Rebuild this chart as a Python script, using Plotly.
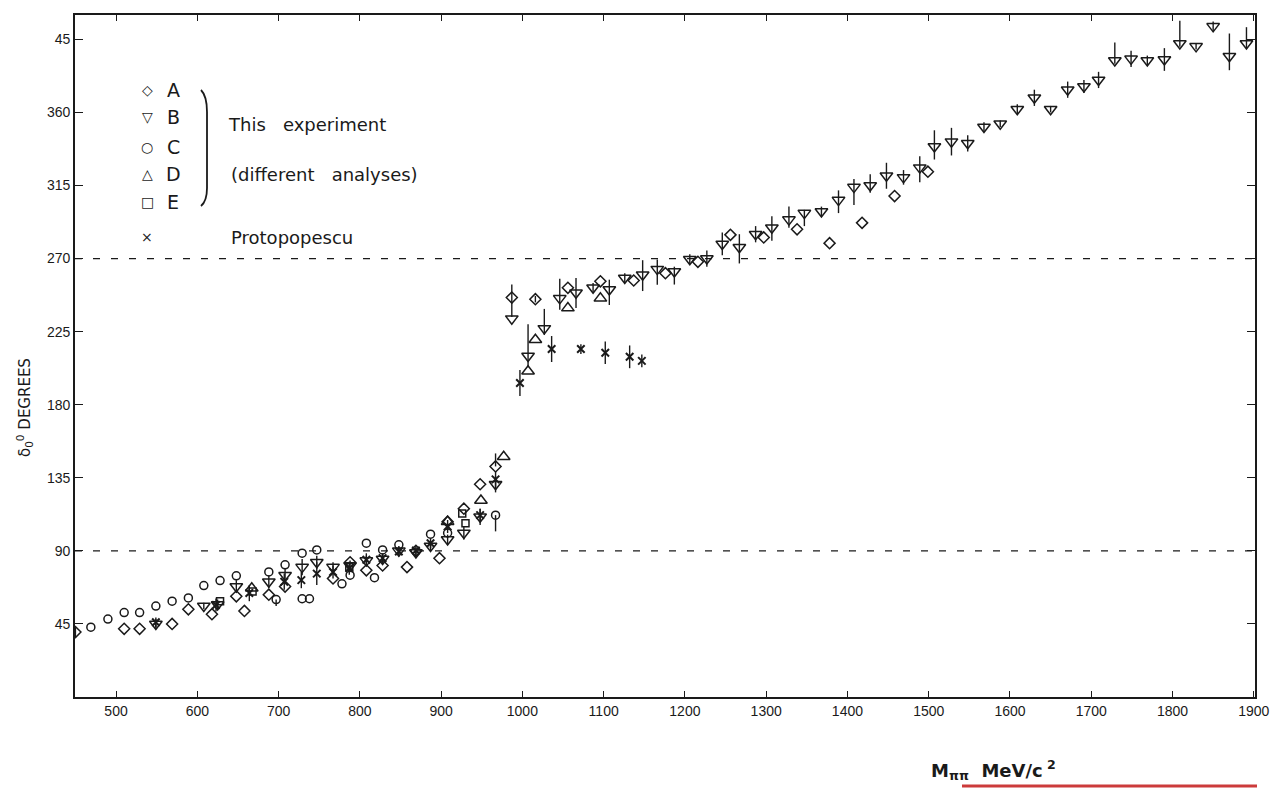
import plotly.graph_objects as go

# ---------------- data ----------------
A_x = [450, 510, 529, 569, 589, 618, 648, 658, 688, 708, 767, 788, 808, 828, 858, 869, 898, 908, 928, 948,
       967, 987, 1016, 1056, 1096, 1137, 1176, 1216, 1256, 1297, 1338, 1378, 1418, 1458, 1499]
A_y = [40, 42, 42, 45, 54, 51, 62, 53, 63, 68, 73, 83, 78, 81, 80, 90, 85.5, 108, 116, 131,
       142, 246, 245, 252, 256, 256.5, 261, 268, 284.6, 283, 288, 279.5, 292, 308.5, 323.5]
A_ep = [3, 0, 0, 0, 0, 0, 0, 0, 0, 0, 0, 0, 0, 0, 0, 0, 0, 0, 0, 0,
        8, 8, 2, 0, 0, 0, 0, 0, 0, 0, 0, 0, 0, 0, 0]
A_em = [3, 0, 0, 0, 0, 0, 0, 0, 0, 0, 0, 0, 0, 0, 0, 0, 0, 0, 0, 0,
        0, 12, 2, 0, 0, 0, 0, 0, 0, 0, 0, 0, 0, 0, 0]

B_x = [549, 608, 625, 648, 688, 708, 729, 747, 767, 788,
       808, 828, 848, 869, 887, 908, 928, 948, 967, 987,
       1007, 1027, 1046, 1066, 1087, 1107, 1126, 1148, 1166, 1187,
       1206, 1227, 1246, 1267, 1287, 1307, 1328, 1347, 1368, 1389,
       1408, 1428, 1448, 1469, 1489, 1507, 1528, 1548, 1568, 1588,
       1609, 1630, 1650, 1671, 1691, 1709, 1729, 1749, 1769, 1790,
       1809, 1829, 1850, 1870, 1891]
B_y = [45, 56, 57, 68, 71, 75, 80, 83, 80, 81,
       84, 85, 90, 89, 93, 97, 101, 111, 131, 233,
       210, 227, 245.5, 249, 252, 251, 258, 260, 263.5, 262,
       269.6, 270, 279, 277, 285, 289, 294, 298, 299, 306,
       314, 315, 321, 320, 326, 339, 342, 341, 351, 353,
       362, 369, 362, 374, 376, 380, 392, 393, 392, 392.6,
       402.5, 400.7, 413, 394.6, 402.5]
B_ep = [3, 2, 3, 4, 4, 4, 5, 4, 3, 3,
        3, 3, 3, 3, 3, 3, 4, 5, 5, 0,
        19.5, 12, 12, 9, 3, 6, 3, 9, 6, 3,
        3, 5, 7, 8, 5, 7, 8, 2, 3, 6,
        5, 7, 8, 4.5, 7, 10, 8.5, 5, 3, 2,
        3, 5, 2, 5, 4, 5, 11, 5, 3, 7,
        14, 2, 3, 14, 10]
B_em = [3, 2, 3, 4, 4, 4, 5, 4, 3, 3,
        3, 3, 3, 3, 3, 3, 4, 5, 5, 0,
        7, 4, 7, 9.5, 3, 9.6, 3, 10, 9.6, 8,
        3, 5, 7, 10, 5, 8, 5, 8, 3, 8,
        11, 4.5, 8, 4.5, 9, 8, 8.5, 5, 3, 2,
        3, 5, 2, 5, 4, 5, 2, 5, 3, 7,
        2, 2, 3, 8.6, 3]

C_x = [469, 490, 510, 529, 549, 569, 589, 608, 628, 648, 688, 697, 708, 729, 729, 738, 747, 778, 788,
       808, 818, 828, 848, 887, 908, 967]
C_y = [43, 48, 52, 52, 56, 59, 61, 68.6, 71.7, 74.6, 77, 60, 81.4, 88.6, 60.5, 60.5, 90.6, 69.7, 75,
       94.7, 73.5, 90.6, 93.7, 100.3, 101, 112]
C_ep = [0] * 26
C_em = [0, 0, 0, 0, 0, 0, 0, 0, 0, 0, 0, 4, 0, 0, 0, 0, 0, 0, 0,
        0, 0, 0, 0, 0, 0, 10]

D_x = [667, 908, 949, 977, 1007, 1016, 1056, 1096]
D_y = [67, 108, 121, 148, 200.6, 220, 239.5, 245.5]

E_x = [628, 668, 787, 926, 930]
E_y = [59, 65, 80, 113, 107]

P_x = [549, 623, 664, 707, 728, 747, 767, 787, 808, 828, 848, 869, 887, 908, 948, 967,
       997, 1036, 1072, 1102, 1132, 1147]
P_y = [46, 56.7, 64, 71, 72, 76, 77, 79.3, 84.5, 85.5, 89.6, 90.2, 94.7, 105, 112, 134,
       193.4, 214.3, 214.3, 212, 209.5, 207]
P_err = [3, 4, 5, 5, 5, 7, 4, 4, 4, 3, 3, 3, 3, 4, 4, 5,
         8, 8, 3, 7, 7, 4]

x_ticks = [500, 600, 700, 800, 900, 1000, 1100, 1200, 1300, 1400, 1500, 1600, 1700, 1800, 1900]
y_ticks = [45, 90, 135, 180, 225, 270, 315, 360, 405]
y_ticktext = ["45", "90", "135", "180", "225", "270", "315", "360", "45"]

legend_symbols = ["◇", "▽", "○", "△", "□", "×"]
legend_letters = ["A", "B", "C", "D", "E"]

# ---------------- figure ----------------
INK = "#1a1a1a"
fig = go.Figure()


def err(plus, minus):
    return dict(type="data", symmetric=False, array=plus, arrayminus=minus,
                thickness=1.4, width=0, color=INK)


fig.add_trace(go.Scatter(x=A_x, y=A_y, mode="markers", name="A",
                         marker=dict(symbol="diamond-open", size=8.5, color=INK, line=dict(width=1.5, color=INK)),
                         error_y=err(A_ep, A_em)))
fig.add_trace(go.Scatter(x=B_x, y=B_y, mode="markers", name="B",
                         marker=dict(symbol="triangle-down-open", size=11, color=INK, line=dict(width=1.5, color=INK)),
                         error_y=err(B_ep, B_em)))
fig.add_trace(go.Scatter(x=C_x, y=C_y, mode="markers", name="C",
                         marker=dict(symbol="circle-open", size=8, color=INK, line=dict(width=1.5, color=INK)),
                         error_y=err(C_ep, C_em)))
fig.add_trace(go.Scatter(x=D_x, y=D_y, mode="markers", name="D",
                         marker=dict(symbol="triangle-up-open", size=11, color=INK, line=dict(width=1.5, color=INK))))
fig.add_trace(go.Scatter(x=E_x, y=E_y, mode="markers", name="E",
                         marker=dict(symbol="square-open", size=7, color=INK, line=dict(width=1.5, color=INK))))
fig.add_trace(go.Scatter(x=P_x, y=P_y, mode="markers", name="Protopopescu",
                         marker=dict(symbol="x-thin-open", size=7.5, color=INK, line=dict(width=2, color=INK)),
                         error_y=err(P_err, P_err)))

# plot-area geometry (pixels) for paper conversions
L, R, T, B_ = 75, 1255, 15, 697
W_, H_ = R - L, B_ - T


def px2x(px):
    return (px - L) / W_


def py2y(py):
    return (B_ - py) / H_


# dashed reference lines at 90 and 270
for yv in (90, 270):
    fig.add_shape(type="line", xref="paper", yref="y", x0=0, x1=1, y0=yv, y1=yv,
                  line=dict(color=INK, width=1.2, dash="7px,11px"), layer="below")

# legend (drawn as text in the upper-left)
row_py = [90, 117, 147, 174, 202, 237]
for sym, py in zip(legend_symbols, row_py):
    fig.add_annotation(x=px2x(147), y=py2y(py), xref="paper", yref="paper", text=sym, showarrow=False,
                       xanchor="center", yanchor="middle", font=dict(size=14, color=INK, family="DejaVu Sans"))
for let, py in zip(legend_letters, row_py[:5]):
    fig.add_annotation(x=px2x(173), y=py2y(py), xref="paper", yref="paper", text=let, showarrow=False,
                       xanchor="center", yanchor="middle", font=dict(size=19, color=INK, family="DejaVu Sans"))
fig.add_annotation(x=px2x(226), y=py2y(125), xref="paper", yref="paper", text="This   experiment",
                   showarrow=False, xanchor="left", yanchor="middle",
                   font=dict(size=18, color=INK, family="DejaVu Sans"))
fig.add_annotation(x=px2x(229), y=py2y(174), xref="paper", yref="paper", text="(different   analyses)",
                   showarrow=False, xanchor="left", yanchor="middle",
                   font=dict(size=18, color=INK, family="DejaVu Sans"))
fig.add_annotation(x=px2x(229), y=py2y(237), xref="paper", yref="paper", text="Protopopescu",
                   showarrow=False, xanchor="left", yanchor="middle",
                   font=dict(size=18, color=INK, family="DejaVu Sans"))
brace = "M {a} {b} Q {c} {d} {c} {e} L {c} {f} Q {c} {g} {a} {h}".format(
    a=px2x(201), b=py2y(90), c=px2x(207), d=py2y(96), e=py2y(112), f=py2y(188), g=py2y(201), h=py2y(206))
fig.add_shape(type="path", xref="paper", yref="paper", path=brace, line=dict(color=INK, width=1.8))

# axis titles
fig.add_annotation(x=px2x(25), y=py2y(408), xref="paper", yref="paper",
                   text="δ<sub>0</sub><sup>0</sup> DEGREES", textangle=-90, showarrow=False,
                   xanchor="center", yanchor="middle", font=dict(size=15, color=INK, family="DejaVu Sans"))
fig.add_annotation(x=px2x(929), y=py2y(770), xref="paper", yref="paper",
                   text="<b>M<sub>ππ</sub>  MeV/c<sup> 2</sup></b>", showarrow=False,
                   xanchor="left", yanchor="middle", font=dict(size=18, color=INK, family="DejaVu Sans"))
fig.add_shape(type="line", xref="paper", yref="paper", x0=px2x(962), x1=px2x(1257),
              y0=py2y(786), y1=py2y(786), line=dict(color="#cc3b3b", width=3))

axis_common = dict(showline=True, linecolor=INK, linewidth=1.6, mirror="ticks", ticks="inside",
                   tickcolor=INK, tickwidth=1.4, showgrid=False, zeroline=False,
                   tickfont=dict(size=14, color=INK, family="Liberation Sans"))
fig.update_xaxes(range=[449.5, 1901.5], tickvals=x_ticks, ticklen=6, **axis_common)
fig.update_yaxes(range=[0, 420], tickvals=y_ticks, ticktext=y_ticktext, ticklen=8, **axis_common)

fig.update_layout(width=1284, height=788, autosize=False,
                  margin=dict(l=L, r=1284 - R, t=T, b=788 - B_),
                  paper_bgcolor="white", plot_bgcolor="white", showlegend=False)

fig.write_html("out.html", config={"displayModeBar": False},
               post_script="document.body.style.margin='0';document.body.style.overflow='hidden';")
